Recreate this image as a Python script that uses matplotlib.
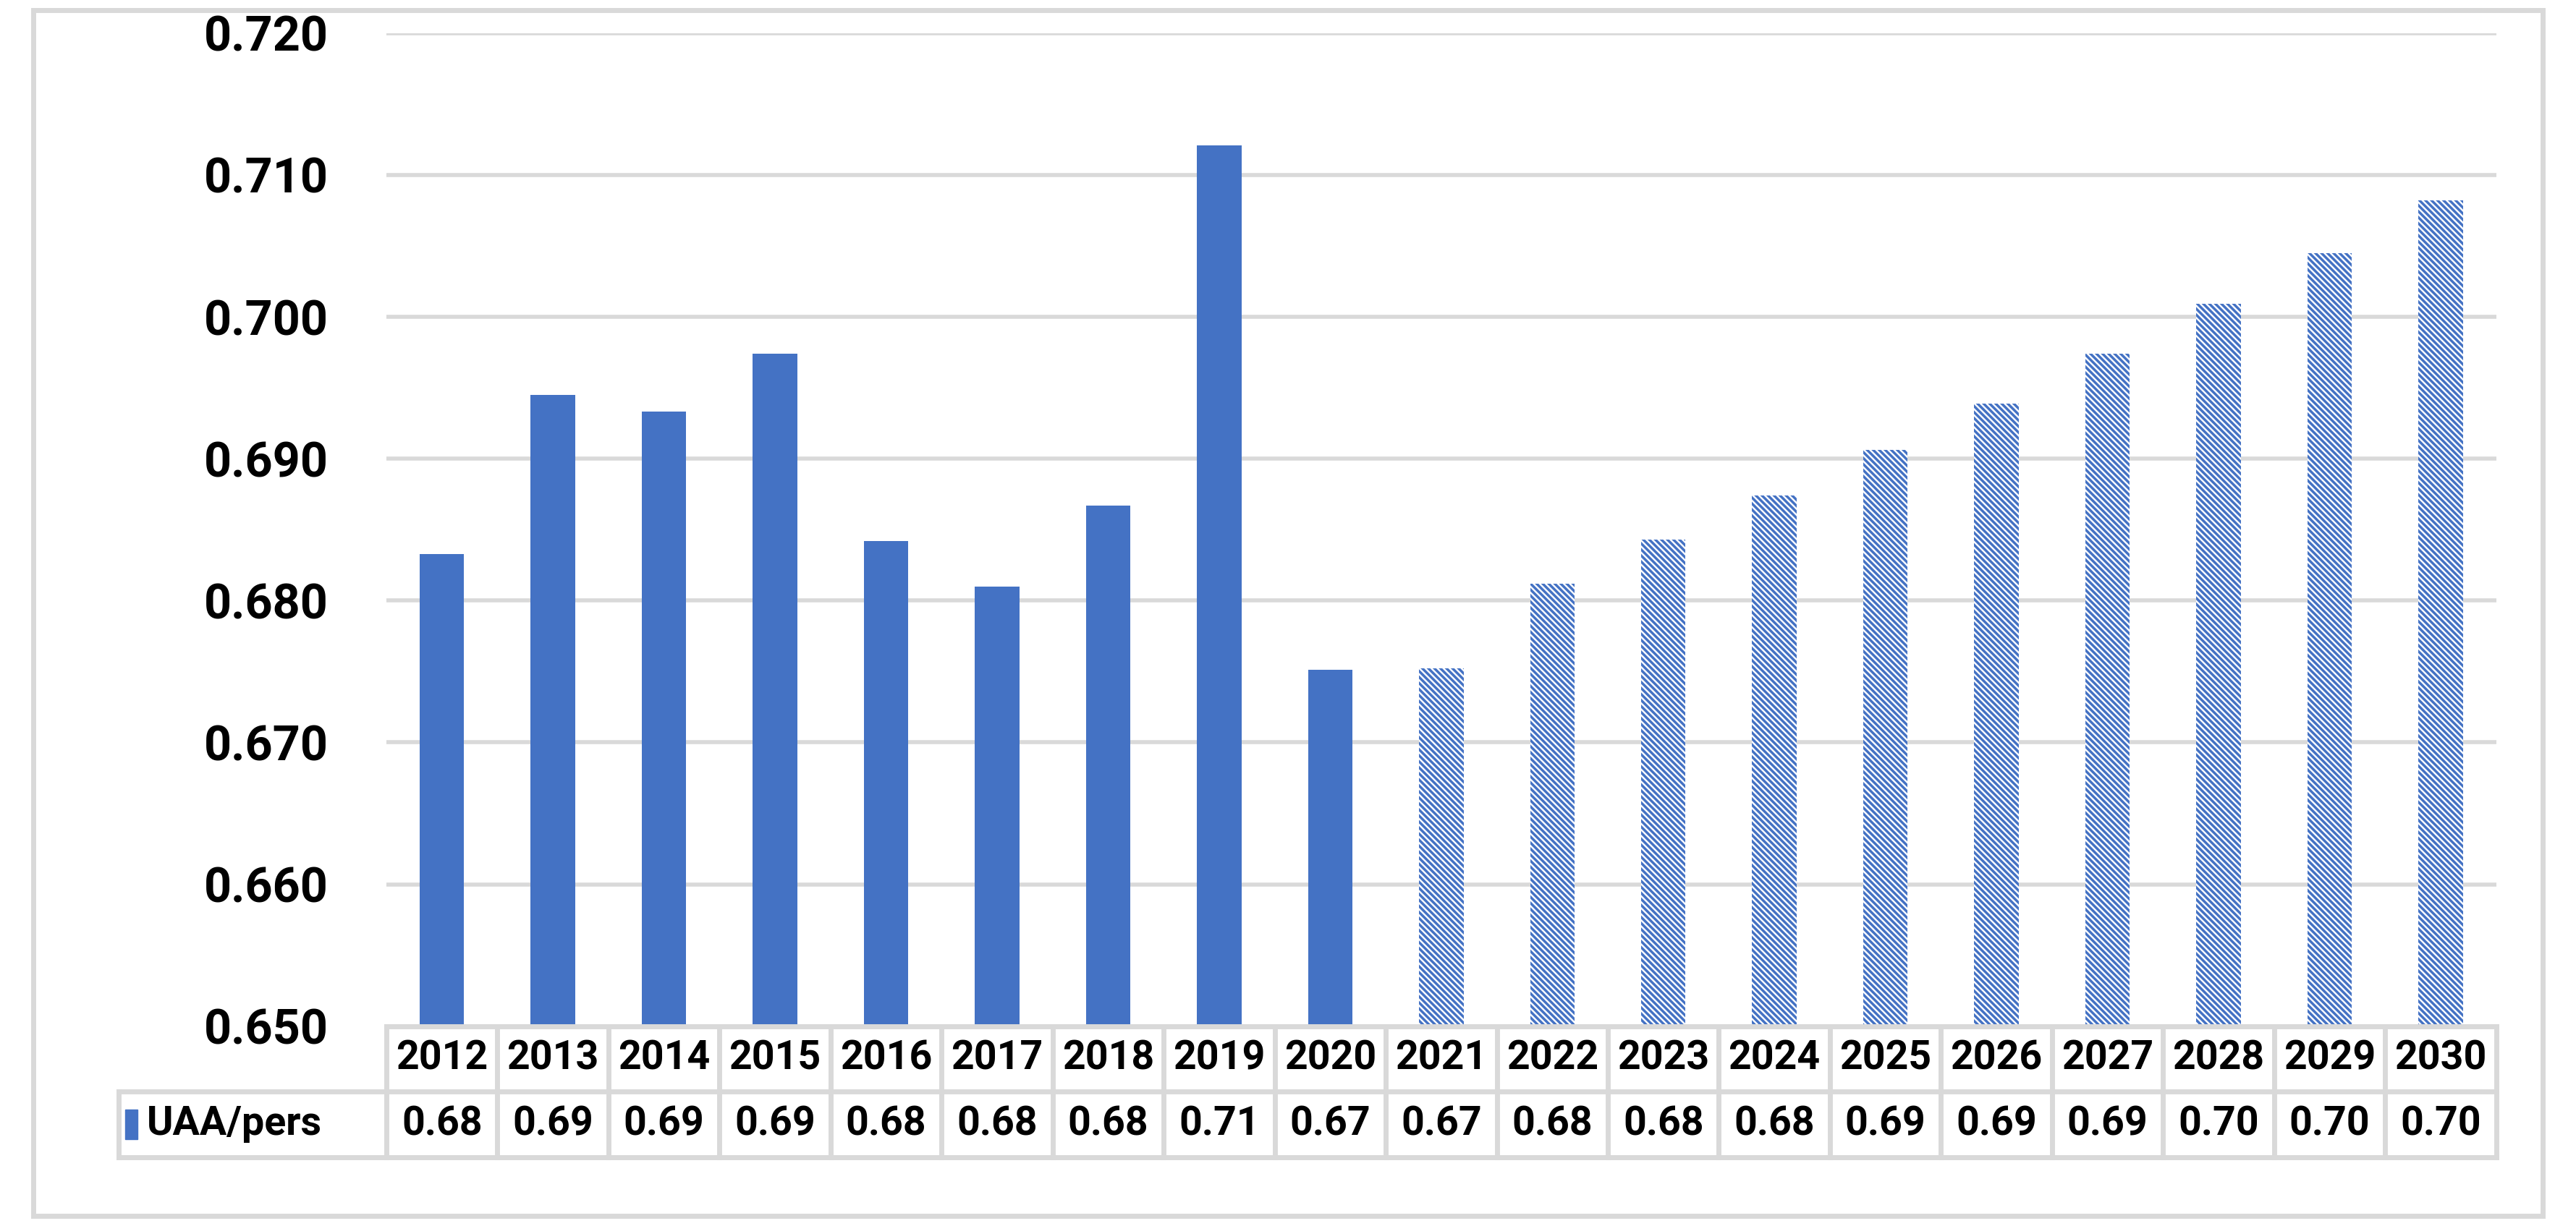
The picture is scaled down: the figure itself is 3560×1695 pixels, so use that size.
import matplotlib
matplotlib.use("Agg")
import matplotlib.pyplot as plt
from matplotlib.patches import Rectangle
from matplotlib.lines import Line2D

plt.rcParams['font.family'] = ['Roboto', 'DejaVu Sans']
plt.rcParams['hatch.linewidth'] = 2.5
plt.rcParams['hatch.color'] = '#4472C4'

years = [str(y) for y in range(2012, 2031)]
values = [0.6833, 0.6945, 0.6933, 0.6974, 0.6842, 0.6810, 0.6867, 0.7121, 0.6751,
          0.6752, 0.6812, 0.6843, 0.6874, 0.6906, 0.6939, 0.6974, 0.7009, 0.7045, 0.7082]
n_actual = 9  # 2012-2020 observed, rest forecast
# table shows values cut to two decimals
labels = ["%.2f" % (int(v * 100) / 100) for v in values]
blue = '#4472C4'
grid = '#D9D9D9'

L, R = 0.150, 0.969
B, T = 0.163, 0.973

fig = plt.figure(figsize=(35.6, 16.95), dpi=100)
ax = fig.add_axes([L, B, R - L, T - B])

x = list(range(len(years)))
ax.bar(x[:n_actual], values[:n_actual], width=0.4, color=blue, zorder=3)
ax.bar(x[n_actual:], values[n_actual:], width=0.4, facecolor='white',
       edgecolor=blue, linewidth=0, hatch='\\\\\\\\', zorder=3)

ax.set_xlim(-0.5, len(years) - 0.5)
ax.set_ylim(0.650, 0.720)
ax.set_yticks([0.65 + 0.01 * i for i in range(8)])
ax.set_yticklabels(["%.3f" % (0.65 + 0.01 * i) for i in range(8)],
                   fontsize=48, fontweight='bold')
ax.tick_params(axis='y', length=0, pad=58)
ax.set_xticks([])
ax.grid(axis='y', color=grid, linewidth=4, zorder=0)
for s in ax.spines.values():
    s.set_visible(False)

# data table drawn by hand in figure coords
w = (R - L) / len(years)
y_mid, y_bot = 0.110, 0.056
lx = 0.046


def hline(x0, x1, y):
    fig.add_artist(Line2D([x0, x1], [y, y], color=grid, lw=5, transform=fig.transFigure))


def vline(x, y0, y1):
    fig.add_artist(Line2D([x, x], [y0, y1], color=grid, lw=5, transform=fig.transFigure))


hline(L, R, B)
hline(lx, R, y_mid)
hline(lx, R, y_bot)
vline(lx, y_bot, y_mid)
for i in range(len(years) + 1):
    vline(L + i * w, y_bot, B)
for i, (yr, lab) in enumerate(zip(years, labels)):
    cx = L + (i + 0.5) * w
    fig.text(cx, (B + y_mid) / 2, yr, ha='center', va='center', fontsize=40, fontweight='bold')
    fig.text(cx, (y_mid + y_bot) / 2, lab, ha='center', va='center', fontsize=40, fontweight='bold')

# legend key and series name
fig.patches.append(Rectangle((0.0485, 0.071), 0.0048, 0.024, color=blue,
                             transform=fig.transFigure))
fig.text(0.057, (y_mid + y_bot) / 2, 'UAA/pers', ha='left', va='center',
         fontsize=40, fontweight='bold')

# outer frame
fig.patches.append(Rectangle((0.013, 0.008), 0.974, 0.984, fill=False,
                             edgecolor=grid, linewidth=5,
                             transform=fig.transFigure))

fig.savefig("out.png", dpi=100)
